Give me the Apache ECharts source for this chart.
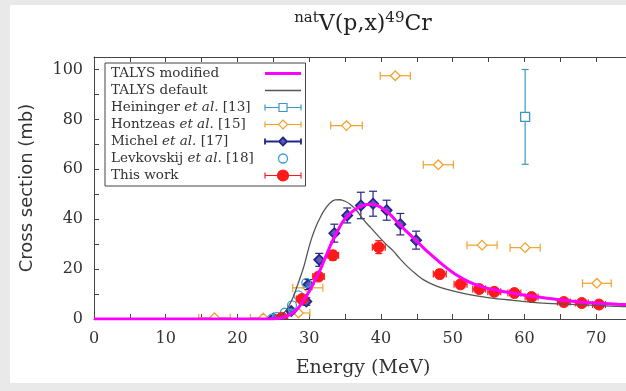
<!DOCTYPE html>
<html>
<head>
<meta charset="utf-8">
<script src="https://cdn.jsdelivr.net/npm/echarts@6/dist/echarts.min.js"></script>
<style>
  html, body { margin: 0; padding: 0; width: 626px; height: 391px; overflow: hidden; background: #e9e9e9; }
  #main { position: absolute; left: 10px; top: 5px; width: 700px; height: 378px; background: #fff; }
</style>
</head>
<body>
<div id="main"></div>
<script>
// tick labels
const xLabels = [0, 10, 20, 30, 40, 50, 60, 70];
const yLabels = [0, 20, 40, 60, 80, 100];

// TALYS curves: [energy MeV, cross section mb]
const talysModified = [
  [0, 0], [24.5, 0], [25.5, 0.2], [26.4, 0.6], [27.2, 1.6], [27.8, 2.6], [28.5, 4.5], [29.2, 7.5],
  [30.0, 11], [30.7, 15], [31.5, 19.5], [32.3, 25], [33.2, 31], [34.0, 35.5], [34.7, 39], [35.6, 42],
  [36.6, 44.3], [37.6, 45.6], [38.5, 46], [39.4, 45.6], [40.3, 44.2], [41.3, 41.8], [42.4, 38.5],
  [43.6, 35], [44.9, 31.5], [46.0, 28.3], [47.3, 25], [48.8, 21.3], [50.6, 17.5], [52.2, 15],
  [53.8, 13.2], [56, 11.6], [58.4, 10.3], [60.8, 9.2], [63.2, 8.3], [65.5, 7.5], [67.8, 6.8],
  [70.5, 6.3], [73, 5.9], [75, 5.6]
];
const talysDefault = [
  [0, 0], [24, 0], [24.8, 0.2], [25.5, 0.6], [26.2, 1.8], [26.8, 3.5], [27.3, 6], [27.8, 9],
  [28.3, 13], [28.8, 17], [29.3, 21.5], [29.8, 27], [30.3, 32], [30.9, 36.8], [31.5, 40.5],
  [32.2, 44], [32.9, 46.5], [33.6, 47.7], [34.3, 47.8], [35.0, 47.2], [35.7, 46], [36.6, 43.5],
  [37.5, 40], [38.6, 36.5], [39.7, 33], [40.7, 30], [41.7, 27.3], [42.7, 24], [43.7, 21],
  [44.8, 18.2], [45.9, 15.8], [47.5, 13.5], [49.2, 11.9], [51.5, 10.3], [53.8, 9.1], [56, 8.2],
  [58.4, 7.5], [60.8, 6.8], [63.2, 6.3], [65.5, 6], [67.8, 5.7], [70.5, 5.4], [73, 5.1], [75, 5]
];

// measurements: [energy, cross section, dE, dSigma]
const heininger = [[60.1, 81, 0, 19]];
const hontzeas = [
  [16.8, 0.5, 2.2, 0], [23.6, 0.4, 1.8, 0], [28.5, 2.4, 1.6, 0], [29.8, 12.5, 2.1, 0],
  [35.2, 77.5, 2.2, 0], [42.0, 97.5, 2.1, 0], [48.0, 61.8, 2.1, 0], [54.1, 29.6, 2.1, 0],
  [60.1, 28.6, 2.1, 0], [70.1, 14.3, 2.0, 0]
];
const michel = [
  [25.0, 0.2, 0, 0.5], [27.5, 3.2, 0, 1], [29.6, 7, 0, 1.5], [29.9, 13.8, 0, 2],
  [31.4, 23.7, 0, 2.6], [33.5, 34.4, 0, 3.6], [35.3, 41.5, 0, 3], [37.2, 45.5, 0, 5.3],
  [38.9, 46.2, 0, 5], [40.8, 43.6, 0, 4], [42.7, 38, 0, 4.3], [44.9, 31.6, 0, 3.6]
];
const levkovskij = [
  [24.8, 0.1], [25.5, 0.8], [26.6, 2.5], [27.6, 5.5], [28.5, 9.5], [29.6, 14.5]
];
const thisWork = [
  [26.2, 0.5, 0.8, 0.5], [29.0, 8, 0.8, 1.5], [31.3, 17, 0.8, 1.5], [33.3, 25.5, 0.8, 2],
  [39.7, 28.8, 0.9, 2.6], [48.2, 18, 0.9, 1.8], [51.1, 13.9, 0.9, 1.4], [53.7, 12, 0.9, 1.2],
  [55.8, 10.9, 0.9, 1.1], [58.6, 10.4, 0.9, 1], [61.0, 8.8, 0.9, 0.9], [65.5, 6.8, 0.9, 0.7],
  [68.0, 6.4, 0.9, 0.7], [70.4, 5.8, 0.9, 0.6]
];

const serif = 'DejaVu Serif';

function seg(x1, y1, x2, y2, style) {
  return { type: 'line', shape: { x1: x1, y1: y1, x2: x2, y2: y2 }, style: style };
}

function marker(m, p) {
  const st = { fill: m.fill, stroke: m.color, lineWidth: m.lineWidth };
  const h = m.size;
  if (m.shape === 'circle') return { type: 'circle', shape: { cx: p[0], cy: p[1], r: h }, style: st };
  if (m.shape === 'square') return { type: 'rect', shape: { x: p[0] - h, y: p[1] - h, width: 2 * h, height: 2 * h }, style: st };
  return { type: 'polygon', shape: { points: [[p[0], p[1] - h], [p[0] + h, p[1]], [p[0], p[1] + h], [p[0] - h, p[1]]] }, style: st };
}

function errorBars(m) {
  return function (params, api) {
    const e = api.value(0), s = api.value(1);
    const de = api.value(2) || 0, ds = api.value(3) || 0;
    const p = api.coord([e, s]);
    const line = { stroke: m.color, lineWidth: 1.2 };
    const cap = m.cap;
    const kids = [];
    if (de > 0) {
      const a = api.coord([e - de, s]), b = api.coord([e + de, s]);
      kids.push(seg(a[0], a[1], b[0], b[1], line));
      kids.push(seg(a[0], a[1] - cap, a[0], a[1] + cap, line));
      kids.push(seg(b[0], b[1] - cap, b[0], b[1] + cap, line));
    }
    if (ds > 0) {
      const a = api.coord([e, s - ds]), b = api.coord([e, s + ds]);
      kids.push(seg(a[0], a[1], b[0], b[1], line));
      kids.push(seg(a[0] - cap, a[1], a[0] + cap, a[1], line));
      kids.push(seg(b[0] - cap, b[1], b[0] + cap, b[1], line));
    }
    kids.push(marker(m, p));
    return { type: 'group', children: kids };
  };
}

function pointSeries(name, data, m) {
  return {
    name: name, type: 'custom', data: data, clip: true,
    encode: { x: 0, y: 1 },
    itemStyle: { color: m.color },
    renderItem: errorBars(m)
  };
}

const legendText = {
  'TALYS modified': '{r|TALYS modified}',
  'TALYS default': '{r|TALYS default}',
  'Heininger': '{r|Heininger }{i|et al.}{r| [13]}',
  'Hontzeas': '{r|Hontzeas }{i|et al.}{r| [15]}',
  'Michel': '{r|Michel }{i|et al.}{r| [17]}',
  'Levkovskij': '{r|Levkovskij }{i|et al.}{r| [18]}',
  'This work': '{r|This work}'
};
const box = 'M0 0M38 12';
const bars = 'M1 6L14.5 6M23.5 6L37 6M1 3L1 9M37 3L37 9';

const chart = echarts.init(document.getElementById('main'));
chart.setOption({
  animation: false,
  textStyle: { fontFamily: serif },
  title: {
    left: 348, top: 1, textAlign: 'center',
    text: '{s|nat}{m|V(p,x)}{s|49}{m|Cr}',
    textStyle: {
      fontWeight: 'normal',
      rich: {
        m: { fontFamily: serif, fontSize: 22, lineHeight: 26, color: '#222', fontWeight: 'normal' },
        s: { fontFamily: serif, fontSize: 15, lineHeight: 15, color: '#222', fontWeight: 'normal', verticalAlign: 'top' }
      }
    }
  },
  grid: { left: 84, top: 52, width: 538, height: 266 },
  legend: {
    orient: 'vertical', align: 'right', left: 95, top: 58,
    itemWidth: 38, itemHeight: 12, itemGap: 2,
    padding: [3, 2, 3, 6], borderColor: '#444', borderWidth: 1, backgroundColor: '#fff',
    selectedMode: false,
    formatter: function (n) { return legendText[n]; },
    textStyle: {
      width: 148, lineHeight: 15,
      rich: {
        r: { align: 'left', fontFamily: serif, fontSize: 13.5, lineHeight: 15, color: '#333' },
        i: { align: 'left', fontFamily: serif, fontSize: 13.5, lineHeight: 15, color: '#333', fontStyle: 'italic' }
      }
    },
    data: [
      { name: 'TALYS modified', icon: 'path://' + box + 'M1 6L37 6', itemStyle: { color: '#ff00ff', borderColor: '#ff00ff', borderWidth: 3 } },
      { name: 'TALYS default', icon: 'path://' + box + 'M1 6L37 6', itemStyle: { color: '#555', borderColor: '#555', borderWidth: 1.3 } },
      { name: 'Heininger', icon: 'path://' + box + bars + 'M15 2L23 2L23 10L15 10Z', itemStyle: { color: '#fff', borderColor: '#3b98c4', borderWidth: 1.2 } },
      { name: 'Hontzeas', icon: 'path://' + box + bars + 'M19 1.5L23.5 6L19 10.5L14.5 6Z', itemStyle: { color: '#fff', borderColor: '#f2a22c', borderWidth: 1.2 } },
      { name: 'Michel', icon: 'path://' + box + bars + 'M19 2L23 6L19 10L15 6Z', itemStyle: { color: '#5c5cb4', borderColor: '#25258c', borderWidth: 1.8 } },
      { name: 'Levkovskij', icon: 'path://' + box + 'M23.5 6A4.5 4.5 0 1 1 14.5 6A4.5 4.5 0 1 1 23.5 6Z', itemStyle: { color: '#fff', borderColor: '#3aa0d8', borderWidth: 1.3 } },
      { name: 'This work', icon: 'path://' + box + 'M1 6L37 6M1 3L1 9M37 3L37 9M24.5 6A5.5 5.5 0 1 1 13.5 6A5.5 5.5 0 1 1 24.5 6Z', itemStyle: { color: '#ff1a1a', borderColor: '#ff1a1a', borderWidth: 1.2 } }
    ]
  },
  xAxis: [{
    type: 'value', min: 0, max: 75, interval: 5, position: 'bottom',
    axisLine: { onZero: false, lineStyle: { color: '#444', width: 1 } },
    axisTick: { inside: true, length: 5, lineStyle: { color: '#444' } },
    axisLabel: {
      margin: 12, fontFamily: serif, fontSize: 16, color: '#333',
      formatter: function (v) { return xLabels.indexOf(v) >= 0 ? String(v) : ''; }
    },
    splitLine: { show: false },
    name: 'Energy (MeV)', nameLocation: 'middle', nameGap: 40,
    nameTextStyle: { fontFamily: serif, fontSize: 19, color: '#333' }
  }, {
    type: 'value', min: 0, max: 75, interval: 5, position: 'top',
    axisLine: { onZero: false, lineStyle: { color: '#444', width: 1 } },
    axisTick: { inside: true, length: 5, lineStyle: { color: '#444' } },
    axisLabel: { show: false }, splitLine: { show: false }
  }],
  yAxis: [{
    type: 'value', min: 0, max: 105, interval: 10, position: 'left',
    axisLine: { show: true, onZero: false, lineStyle: { color: '#444', width: 1 } },
    axisTick: { show: true, inside: true, length: 5, lineStyle: { color: '#444' } },
    axisLabel: {
      margin: 11, fontFamily: serif, fontSize: 16, color: '#333',
      formatter: function (v) { return yLabels.indexOf(v) >= 0 ? String(v) : ''; }
    },
    splitLine: { show: false },
    name: 'Cross section (mb)', nameLocation: 'middle', nameGap: 58,
    nameTextStyle: { fontFamily: 'DejaVu Sans', fontSize: 18, color: '#333' }
  }, {
    type: 'value', min: 0, max: 105, interval: 10, position: 'right',
    axisLine: { show: true, onZero: false, lineStyle: { color: '#444', width: 1 } },
    axisTick: { show: true, inside: true, length: 5, lineStyle: { color: '#444' } },
    axisLabel: { show: false }, splitLine: { show: false }
  }],
  series: [
    pointSeries('Heininger', heininger, { shape: 'square', size: 4.5, color: '#3b98c4', fill: '#fff', lineWidth: 1.3, cap: 3.5 }),
    pointSeries('Hontzeas', hontzeas, { shape: 'diamond', size: 4.8, color: '#f2a22c', fill: '#fff', lineWidth: 1.3, cap: 4 }),
    pointSeries('Michel', michel, { shape: 'diamond', size: 5, color: '#25258c', fill: '#5c5cb4', lineWidth: 1.8, cap: 4 }),
    pointSeries('Levkovskij', levkovskij, { shape: 'circle', size: 4.5, color: '#3aa0d8', fill: 'rgba(255,255,255,0)', lineWidth: 1.3, cap: 3 }),
    {
      name: 'TALYS default', type: 'line', data: talysDefault, smooth: 0.3, showSymbol: false,
      lineStyle: { color: '#555', width: 1.3 }, itemStyle: { color: '#555' }
    },
    {
      name: 'TALYS modified', type: 'line', data: talysModified, smooth: 0.3, showSymbol: false,
      lineStyle: { color: '#ff00ff', width: 3 }, itemStyle: { color: '#ff00ff' }
    },
    pointSeries('This work', thisWork, { shape: 'circle', size: 5.5, color: '#ff1a1a', fill: '#ff1a1a', lineWidth: 1, cap: 3.5 })
  ]
});
</script>
</body>
</html>
